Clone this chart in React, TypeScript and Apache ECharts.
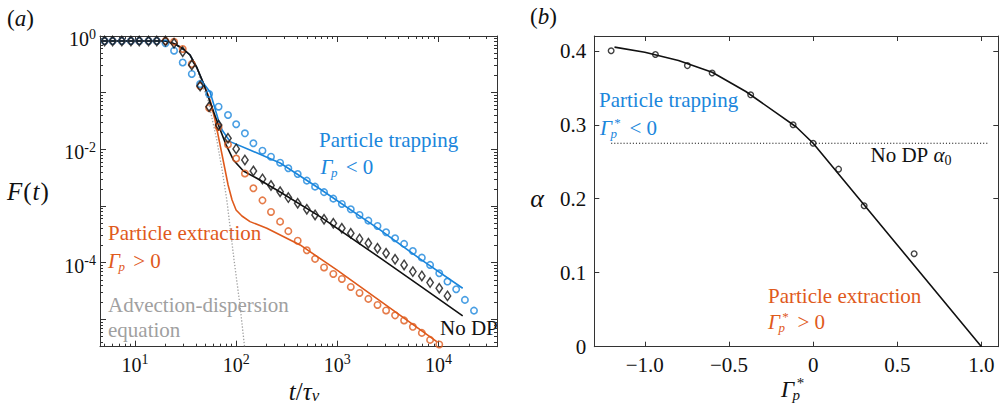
import React, { useEffect, useRef } from "react";
import * as echarts from "echarts";

const FONT = "Liberation Serif, Times New Roman, Times, serif";
const BLUE = "#1A86DC";
const ORANGE = "#DF5A1C";
const GREY = "#A0A0A0";
const INK = "#111111";
const AXIS = "#333333";

// ---------------- panel (a): F(t) versus t / tau_v ----------------
const times = [
  5.0, 6.0, 7.4, 9.1, 11, 13.6, 16.4, 20, 24.3, 29.6, 36.4, 44, 54, 67, 83,
  100, 122, 148, 182, 221, 272, 328, 406, 500, 603, 740, 914, 1110, 1360,
  1660, 2030, 2500, 3040, 3730, 4580, 5590, 6860, 8280, 10200, 12300, 15000,
  18300, 22500,
];
const noDpMarkers = [
  0.816, 0.816, 0.816, 0.816, 0.816, 0.816, 0.816, 0.816, 0.743, 0.528, 0.308,
  0.131, 0.0566, 0.0269, 0.0157, 0.0102, 0.0065, 0.00416, 0.00301, 0.00231,
  0.00179, 0.00141, 0.00112, 8.79e-4, 6.97e-4, 5.85e-4, 4.97e-4, 4.06e-4,
  3.31e-4, 2.63e-4, 2.21e-4, 1.8e-4, 1.47e-4, 1.15e-4, 9.15e-5, 6.97e-5,
  5.85e-5, 4.46e-5, 3.55e-5, 2.6e-5,
];
const trappingMarkers = [
  0.816, 0.816, 0.816, 0.816, 0.816, 0.816, 0.816, 0.743, 0.551, 0.341, 0.214,
  0.142, 0.0948, 0.0566, 0.0404, 0.0277, 0.0192, 0.0128, 0.00948, 0.00743,
  0.00582, 0.00464, 0.00368, 0.00281, 0.0022, 0.00176, 0.00135, 0.00109,
  8.79e-4, 6.97e-4, 5.53e-4, 4.46e-4, 3.45e-4, 2.7e-4, 2.15e-4, 1.61e-4,
  1.23e-4, 9.15e-5, 6.53e-5, 4.65e-5, 3.41e-5, 2.21e-5, 1.43e-5,
];
const extractionMarkers = [
  0.816, 0.816, 0.816, 0.816, 0.816, 0.816, 0.816, 0.816, 0.793, 0.59, 0.321,
  0.131, 0.0537, 0.0248, 0.0122, 0.00691, 0.00376, 0.00206, 0.00126, 7.87e-4,
  5.31e-4, 3.61e-4, 2.45e-4, 1.66e-4, 1.17e-4, 8.26e-5, 6.34e-5, 5.18e-5,
  3.74e-5, 2.93e-5, 2.3e-5, 1.8e-5, 1.44e-5, 1.18e-5, 9.6e-6, 7.4e-6, 5.78e-6,
  4.35e-6, 3.62e-6,
];

const noDpLineT = [4.5, 19.8, 24.9, 29.9, 35.0, 41.0, 47.4, 57.4, 66.7, 79.5, 93.8, 118, 160, 272, 676, 2650, 6590, 17400];
const noDpLineF = [0.816, 0.816, 0.723, 0.59, 0.462, 0.273, 0.147, 0.0566, 0.0269, 0.012, 0.0065, 0.00416, 0.00309, 0.00177, 6.5e-4, 1.22e-4, 3.9e-5, 1.15e-5];
const trappingLineT = [4.5, 19.8, 24.9, 29.9, 35.0, 41.0, 47.4, 55.2, 66.7, 72.6, 87.1, 137, 272, 676, 2650, 6590, 17400];
const trappingLineF = [0.816, 0.816, 0.723, 0.59, 0.462, 0.273, 0.147, 0.103, 0.033, 0.022, 0.0137, 0.00975, 0.00575, 0.002, 3.79e-4, 1.17e-4, 3.55e-5];
const extractionLineT = [4.5, 19.8, 24.9, 29.9, 35.0, 41.0, 47.4, 55.2, 61.8, 72.6, 83.2, 91.1, 99.8, 114, 137, 201, 429, 989, 2650, 9640];
const extractionLineF = [0.816, 0.816, 0.723, 0.59, 0.462, 0.273, 0.147, 0.0743, 0.033, 0.00796, 0.00235, 0.00128, 8.53e-4, 6.68e-4, 5.31e-4, 4.06e-4, 2.06e-4, 7.46e-5, 2.12e-5, 4.06e-6];
const adeLineT = [4.5, 19.8, 24.9, 29.9, 35.0, 41.0, 44.0, 52.7, 64.3, 72.6, 80.8, 95.3, 109, 122];
const adeLineF = [0.816, 0.816, 0.723, 0.59, 0.462, 0.273, 0.168, 0.0743, 0.0147, 0.00433, 0.00128, 1.12e-4, 1.8e-5, 2.9e-6];

const T_RANGE = [4.5, 38000];
const F_RANGE = [3.3e-6, 1];
const xDecades = [10, 100, 1000, 10000];
const yDecades = [1, 1e-1, 1e-2, 1e-3, 1e-4, 1e-5];
const yLabelledDecades = [1, 1e-2, 1e-4];

// ---------------- panel (b): alpha versus Gamma_p* ----------------
const gammaStar = [-1.2, -0.937, -0.747, -0.6, -0.371, -0.119, 0, 0.151, 0.303, 0.6];
const alphaValues = [0.4, 0.395, 0.38, 0.37, 0.3405, 0.3, 0.275, 0.24, 0.1905, 0.1257];
const fitGamma = [-1.18, -1.0, -0.8, -0.6, -0.4, -0.2, -0.1, 0, 0.5, 1.0];
const fitAlpha = [0.405, 0.398, 0.387, 0.371, 0.345, 0.313, 0.297, 0.275, 0.1375, 0];
const alpha0 = 0.275;
const alpha0Span = [-1.2, 1.04];
const G_RANGE = [-1.3, 1.1];
const A_RANGE = [0, 0.42];
const bXTicks = [-1, -0.5, 0, 0.5, 1];
const bYTicks = [0, 0.1, 0.2, 0.3, 0.4];

// ---------------- helpers ----------------
const lg = Math.log10;
const toLog = (ts: number[], fs: number[]) => fs.map((f, i) => [lg(ts[i]), lg(f)]);
const zip = (xs: number[], ys: number[]) => ys.map((y, i) => [xs[i], y]);

function minorLogs(lo: number, hi: number): number[] {
  const out: number[] = [];
  for (let n = -7; n <= 6; n++) {
    for (let k = 2; k <= 9; k++) {
      const v = lg(k * Math.pow(10, n));
      if (v > lo && v < hi) out.push(v);
    }
  }
  return out;
}

const powRich = {
  b: { fontFamily: FONT, fontSize: 20, color: INK, padding: [6, 0, 0, 0] },
  s: { fontFamily: FONT, fontSize: 14, color: INK, padding: [0, 0, 4, 0] },
};
const powFmt = (v: number) => `{b|10}{s|${Math.round(v)}}`;

function mkAxis(
  gridIndex: number,
  position: string,
  min: number,
  max: number,
  ticks: number[],
  tickLen: number,
  showLine: boolean,
  label?: any
) {
  return {
    type: "value",
    gridIndex,
    position,
    min,
    max,
    axisLine: { show: showLine, onZero: false, lineStyle: { color: AXIS, width: 1 } },
    splitLine: { show: false },
    axisTick: {
      show: true,
      inside: true,
      length: tickLen,
      customValues: ticks,
      lineStyle: { color: AXIS, width: 1 },
    },
    axisLabel: label
      ? {
          show: true,
          customValues: label.values,
          formatter: label.formatter,
          margin: label.margin,
          fontFamily: FONT,
          fontSize: label.fontSize || 20,
          color: INK,
          rich: label.rich,
        }
      : { show: false },
  };
}

function txt(x: number, y: number, text: string, size: number, fill: string, italic = false, align = "left") {
  return {
    type: "text",
    x,
    y,
    silent: true,
    style: {
      text,
      fontFamily: FONT,
      fontSize: size,
      fontStyle: italic ? "italic" : "normal",
      fill,
      textAlign: align,
      textVerticalAlign: "middle",
    },
  };
}

function richTxt(x: number, y: number, text: string, rich: any, align = "left") {
  return {
    type: "text",
    x,
    y,
    silent: true,
    style: { text, rich, fill: INK, fontFamily: FONT, fontSize: 20, textAlign: align, textVerticalAlign: "middle" },
  };
}

function gammaText(x: number, y: number, color: string, star: boolean, tail: string, fs: number) {
  const small = Math.round(fs * 0.64);
  const els: any[] = [
    txt(x, y, "Γ", fs, color, true),
    txt(x + fs * 0.5, y + fs * 0.27, "p", small, color, true),
  ];
  if (star) els.push(txt(x + fs * 0.68, y - fs * 0.25, "*", small, color));
  if (tail) els.push(txt(x + fs * (star ? 1.4 : 1.2), y, tail, fs, color));
  return els;
}

// ---------------- option ----------------
function buildOption() {
  const xLo = lg(T_RANGE[0]);
  const xHi = lg(T_RANGE[1]);
  const yLo = lg(F_RANGE[0]);
  const yHi = lg(F_RANGE[1]);
  const xMaj = xDecades.map(lg);
  const yMaj = yDecades.map(lg);
  const xMin = minorLogs(xLo, xHi);
  const yMin = minorLogs(yLo, yHi);

  const bFmtX = (v: number) => (Math.abs(v) < 1e-9 ? "0" : (v < 0 ? "\u2212" : "") + Math.abs(v).toFixed(1));
  const bFmtY = (v: number) => (Math.abs(v) < 1e-9 ? "0" : v.toFixed(1));

  const xAxis = [
    mkAxis(0, "bottom", xLo, xHi, xMaj, 6, true, { values: xMaj, formatter: powFmt, margin: 2, rich: powRich }),
    mkAxis(0, "bottom", xLo, xHi, xMin, 3, false),
    mkAxis(0, "top", xLo, xHi, xMaj, 6, true),
    mkAxis(0, "top", xLo, xHi, xMin, 3, false),
    mkAxis(1, "bottom", G_RANGE[0], G_RANGE[1], bXTicks, 5, true, { values: bXTicks, formatter: bFmtX, margin: 8, fontSize: 21 }),
    mkAxis(1, "top", G_RANGE[0], G_RANGE[1], bXTicks, 5, true),
  ];
  const yAxis = [
    mkAxis(0, "left", yLo, yHi, yMaj, 6, true, { values: yLabelledDecades.map(lg), formatter: powFmt, margin: 4, rich: powRich }),
    mkAxis(0, "left", yLo, yHi, yMin, 3, false),
    mkAxis(0, "right", yLo, yHi, yMaj, 6, true),
    mkAxis(0, "right", yLo, yHi, yMin, 3, false),
    mkAxis(1, "left", A_RANGE[0], A_RANGE[1], bYTicks, 5, true, { values: bYTicks, formatter: bFmtY, margin: 8, fontSize: 21 }),
    mkAxis(1, "right", A_RANGE[0], A_RANGE[1], bYTicks, 5, true),
  ];

  const lineA = (data: number[][], color: string, width: number, type: any, z: number) => ({
    type: "line",
    xAxisIndex: 0,
    yAxisIndex: 0,
    data,
    symbol: "none",
    silent: true,
    clip: true,
    z,
    lineStyle: { color, width, type, cap: "butt" },
  });
  const circlesA = (data: number[][], color: string, z: number) => ({
    type: "scatter",
    xAxisIndex: 0,
    yAxisIndex: 0,
    data,
    symbol: "circle",
    symbolSize: 6.4,
    silent: true,
    z,
    itemStyle: { color: "rgba(0,0,0,0)", borderColor: color, borderWidth: 1.6 },
  });

  const series: any[] = [
    lineA(toLog(adeLineT, adeLineF), GREY, 1.3, [1.3, 1.8], 2),
    lineA(toLog(extractionLineT, extractionLineF), ORANGE, 1.6, "solid", 3),
    lineA(toLog(trappingLineT, trappingLineF), BLUE, 1.6, "solid", 3),
    lineA(toLog(noDpLineT, noDpLineF), INK, 1.6, "solid", 4),
    circlesA(toLog(times, extractionMarkers), ORANGE, 5),
    circlesA(toLog(times, trappingMarkers), BLUE, 5),
    {
      type: "scatter",
      xAxisIndex: 0,
      yAxisIndex: 0,
      data: toLog(times, noDpMarkers),
      symbol: "diamond",
      symbolSize: [6.4, 9.4],
      silent: true,
      z: 6,
      itemStyle: { color: "rgba(0,0,0,0)", borderColor: INK, borderWidth: 1.5 },
    },
    {
      type: "line",
      xAxisIndex: 4,
      yAxisIndex: 4,
      data: [
        [alpha0Span[0], alpha0],
        [alpha0Span[1], alpha0],
      ],
      symbol: "none",
      silent: true,
      z: 2,
      lineStyle: { color: INK, width: 1.1, type: [1.1, 2.0], cap: "butt" },
    },
    {
      type: "line",
      xAxisIndex: 4,
      yAxisIndex: 4,
      data: zip(fitGamma, fitAlpha),
      symbol: "none",
      silent: true,
      z: 3,
      lineStyle: { color: INK, width: 1.6 },
    },
    {
      type: "scatter",
      xAxisIndex: 4,
      yAxisIndex: 4,
      data: zip(gammaStar, alphaValues),
      symbol: "circle",
      symbolSize: 5.6,
      silent: true,
      z: 4,
      itemStyle: { color: "rgba(0,0,0,0)", borderColor: INK, borderWidth: 1.4 },
    },
  ];

  const paren = (size: number) => ({
    r: { fontFamily: FONT, fontSize: size, fill: INK },
    i: { fontFamily: FONT, fontSize: size, fontStyle: "italic", fill: INK },
  });

  const graphic: any[] = [
    richTxt(7, 18, "{r|(}{i|a}{r|)}", paren(23)),
    richTxt(530, 16, "{r|(}{i|b}{r|)}", paren(23)),
    richTxt(7, 191, "{i|F}{r|(}{i|t}{r|)}", {
      r: { fontFamily: FONT, fontSize: 25, fill: INK, padding: [0, 1, 0, 1] },
      i: { fontFamily: FONT, fontSize: 25, fontStyle: "italic", fill: INK },
    }),
    richTxt(304, 391, "{i|t}{r|/}{i|τ}{s|v}", {
      r: { fontFamily: FONT, fontSize: 25, fill: INK },
      i: { fontFamily: FONT, fontSize: 25, fontStyle: "italic", fill: INK },
      s: { fontFamily: FONT, fontSize: 17, fontStyle: "italic", fill: INK, padding: [9, 0, 0, 0] },
    }, "center"),
    txt(537, 198, "α", 26, INK, true, "center"),
    ...gammaText(781, 389, INK, true, "", 23),

    // panel (a) annotations
    txt(319, 140, "Particle trapping", 21, BLUE),
    ...gammaText(320.5, 166.5, BLUE, false, "< 0", 21),
    txt(108, 233, "Particle extraction", 21, ORANGE),
    ...gammaText(108, 260.5, ORANGE, false, "> 0", 21),
    txt(108, 305, "Advection-dispersion", 21, GREY),
    txt(108, 330, "equation", 21, GREY),
    txt(440, 328, "No DP", 21, INK),

    // panel (b) annotations
    txt(599, 100, "Particle trapping", 21, BLUE),
    ...gammaText(600, 128, BLUE, true, "< 0", 21),
    richTxt(870.5, 155, "{n|No DP }{a|α}{s|0}", {
      n: { fontFamily: FONT, fontSize: 21, fill: INK },
      a: { fontFamily: FONT, fontSize: 21, fontStyle: "italic", fill: INK },
      s: { fontFamily: FONT, fontSize: 14, fill: INK, padding: [10, 0, 0, 0] },
    }),
    txt(768, 295.5, "Particle extraction", 21, ORANGE),
    ...gammaText(768, 321.5, ORANGE, true, "> 0", 21),
  ];

  return {
    animation: false,
    backgroundColor: "#ffffff",
    textStyle: { fontFamily: FONT },
    grid: [
      { left: 100, top: 36, width: 397, height: 310.7, containLabel: false, outerBoundsMode: "none" },
      { left: 594.3, top: 36, width: 404, height: 310.7, containLabel: false, outerBoundsMode: "none" },
    ],
    xAxis,
    yAxis,
    series,
    graphic,
  };
}

export default function App() {
  const ref = useRef<HTMLDivElement>(null);
  useEffect(() => {
    document.body.style.margin = "0";
    if (!ref.current) return;
    const chart = echarts.init(ref.current, undefined, { renderer: "svg" });
    chart.setOption(buildOption() as any);
    return () => chart.dispose();
  }, []);
  return <div ref={ref} style={{ width: 1003, height: 411, background: "#fff" }} />;
}
